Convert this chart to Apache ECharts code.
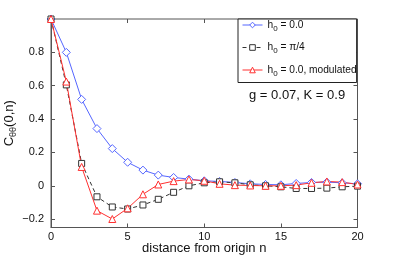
<!DOCTYPE html>
<html><head><meta charset="utf-8">
<script src="https://cdn.jsdelivr.net/npm/echarts@6/dist/echarts.min.js"></script>
<style>html,body{margin:0;padding:0;background:#fff}#c{width:395px;height:256px}</style>
</head><body><div id="c"></div>
<script>
const nValues = [0,1,2,3,4,5,6,7,8,9,10,11,12,13,14,15,16,17,18,19,20];
const blueVals = [1.0,0.80,0.518,0.343,0.223,0.141,0.094,0.064,0.05,0.04,0.03,0.026,0.02,0.012,0.008,0.006,0.014,0.02,0.022,0.018,0.012];
const blackVals = [1.0,0.605,0.134,-0.066,-0.127,-0.139,-0.115,-0.081,-0.039,0.0,0.018,0.024,0.018,0.006,0.0,-0.006,-0.016,-0.016,-0.014,-0.006,-0.002];
const redVals = [1.0,0.625,0.113,-0.149,-0.199,-0.135,-0.051,0.008,0.028,0.038,0.03,0.012,0.004,0.002,0.0,0.0,0.004,0.018,0.026,0.022,0.008];
const yTicks = [-0.2,0,0.2,0.4,0.6,0.8];
const xTicks = [0,5,10,15,20];
const seriesNames = ['h0 = 0.0','h0 = π/4','h0 = 0.0, modulated'];
const legendLabels = {'h0 = 0.0':'{a|h}{s|0}{a| = 0.0}','h0 = π/4':'{a|h}{s|0}{a| = π/4}','h0 = 0.0, modulated':'{a|h}{s|0}{a| = 0.0, modulated}'};
const annotation = 'g = 0.07, K = 0.9';

const FONT = 'Liberation Sans, Arial, sans-serif';
const fmt = v => (v < 0 ? '\u2212' + Math.abs(v) : String(v));
const chart = echarts.init(document.getElementById('c'));
const pairs = vals => nValues.map((n,i)=>[n, vals[i]]);
const mk = (name, vals, color, symbol, dashed, size) => ({
  name, type:'line', data: pairs(vals), symbol, symbolSize: size,
  showAllSymbol:true,
  lineStyle:{color, width:1, type: dashed ? [4,3] : 'solid'},
  itemStyle:{color:'#fff', borderColor:color, borderWidth:1},
  emphasis:{disabled:true}, animation:false, z: 3
});
chart.setOption({
  animation:false,
  grid:{left:51, right:37.5, top:19, bottom:28.5, show:true, borderColor:'#555', borderWidth:1, outerBoundsMode:'none', containLabel:false},
  xAxis:[{
    type:'value', min:0, max:20, interval:5,
    axisLine:{show:true, onZero:false, lineStyle:{color:'#555'}},
    axisTick:{inside:true, length:4, lineStyle:{color:'#555'}},
    splitLine:{show:false},
    axisLabel:{color:'#111', fontSize:11, fontFamily:FONT, margin:4},
    name:'distance from origin n', nameLocation:'middle', nameGap:14, nameMoveOverlap:false,
    nameTextStyle:{color:'#111', fontSize:13, fontFamily:FONT, verticalAlign:'top'}
  },{
    type:'value', min:0, max:20, interval:5, position:'top',
    axisLine:{show:false, onZero:false}, axisTick:{inside:true, length:4, lineStyle:{color:'#555'}},
    axisLabel:{show:false}, splitLine:{show:false}
  }],
  yAxis:[{
    type:'value', min:-0.25, max:1,
    axisLine:{show:true, onZero:false, lineStyle:{color:'#555'}},
    axisTick:{inside:true, length:4, customValues:yTicks, lineStyle:{color:'#555'}},
    splitLine:{show:false},
    axisLabel:{customValues:yTicks, formatter:fmt, color:'#111', fontSize:11, fontFamily:FONT, margin:7},
    name:'{a|C}{s|θθ}{a|(0,n)}', nameLocation:'middle', nameGap:33, nameRotate:90, nameMoveOverlap:false,
    nameTextStyle:{rich:{a:{fontSize:13, fontFamily:FONT, color:'#111'}, s:{fontSize:9, fontFamily:FONT, color:'#111', padding:[8,0,0,0]}}}
  },{
    type:'value', min:-0.25, max:1, position:'right',
    axisLine:{show:false, onZero:false}, axisTick:{inside:true, length:4, customValues:yTicks, lineStyle:{color:'#555'}},
    axisLabel:{show:false, customValues:yTicks}, splitLine:{show:false}
  }],
  legend:{
    orient:'vertical', left:238, top:19, data:seriesNames,
    backgroundColor:'#fff', borderColor:'#222', borderWidth:1,
    padding:[1,0,5,4], itemGap:10, itemWidth:20, itemHeight:7,
    lineStyle:{width:1}, itemStyle:{borderWidth:1},
    formatter: n => legendLabels[n],
    textStyle:{rich:{a:{fontSize:10.2, fontFamily:FONT, color:'#111'}, s:{fontSize:8, fontFamily:FONT, color:'#111', padding:[7,0,0,0]}}},
    selectedMode:false
  },
  graphic:[{type:'text', left:249, top:89, style:{text:annotation, fontSize:13, fontFamily:FONT, fill:'#111'}}],
  series:[
    mk(seriesNames[0], blueVals, '#5566ff', 'diamond', false, 8),
    mk(seriesNames[1], blackVals, '#333333', 'rect', true, 6),
    mk(seriesNames[2], redVals, '#ff3030', 'triangle', false, 7)
  ]
});
</script></body></html>
